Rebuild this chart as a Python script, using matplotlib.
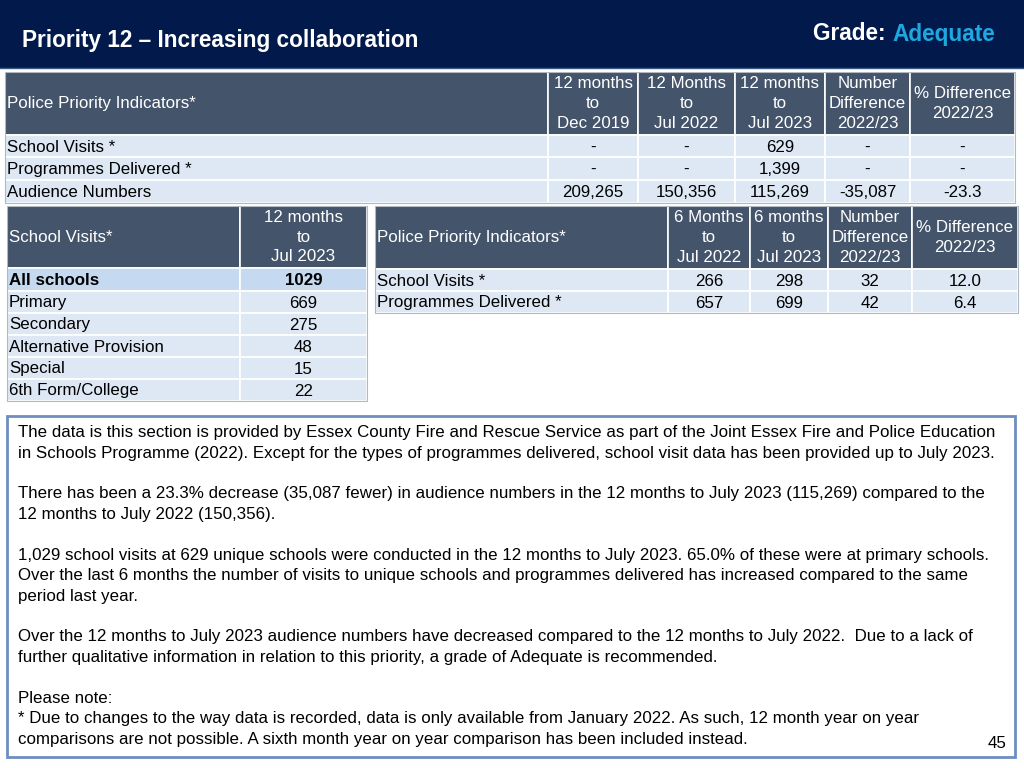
import matplotlib
matplotlib.use("Agg")
import matplotlib.pyplot as plt
from matplotlib.patches import Rectangle

plt.rcParams['font.family'] = ['Liberation Sans', 'DejaVu Sans']

# --- data -------------------------------------------------------------
title = "Priority 12 \u2013 Increasing collaboration"
grade = "Adequate"

t1_headers = ["Police Priority Indicators*", "12 months\nto\nDec 2019", "12 Months\nto\nJul 2022",
              "12 months\nto\nJul 2023", "Number\nDifference\n2022/23", "% Difference\n2022/23"]
t1_rows = ["School Visits *", "Programmes Delivered *", "Audience Numbers"]
t1_dec2019 = [None, None, 209265]
t1_jul2022 = [None, None, 150356]
t1_jul2023 = [629, 1399, 115269]
t1_numdiff = [None, None, -35087]
t1_pctdiff = [None, None, -23.3]

t2_headers = ["School Visits*", "12 months\nto\nJul 2023"]
school_types = ["All schools", "Primary", "Secondary", "Alternative Provision", "Special", "6th Form/College"]
school_visits = [1029, 669, 275, 48, 15, 22]

t3_headers = ["Police Priority Indicators*", "6 Months\nto\nJul 2022", "6 months\nto\nJul 2023",
              "Number\nDifference\n2022/23", "% Difference\n2022/23"]
t3_rows = ["School Visits *", "Programmes Delivered *"]
t3_jul2022 = [266, 657]
t3_jul2023 = [298, 699]
t3_numdiff = [32, 42]
t3_pctdiff = [12.0, 6.4]

paragraphs = [
    "The data is this section is provided by Essex County Fire and Rescue Service as part of the Joint Essex Fire and Police Education\n"
    "in Schools Programme (2022). Except for the types of programmes delivered, school visit data has been provided up to July 2023.",
    "There has been a 23.3% decrease (35,087 fewer) in audience numbers in the 12 months to July 2023 (115,269) compared to the\n"
    "12 months to July 2022 (150,356).",
    "1,029 school visits at 629 unique schools were conducted in the 12 months to July 2023. 65.0% of these were at primary schools.\n"
    "Over the last 6 months the number of visits to unique schools and programmes delivered has increased compared to the same\n"
    "period last year.",
    "Over the 12 months to July 2023 audience numbers have decreased compared to the 12 months to July 2022.  Due to a lack of\n"
    "further qualitative information in relation to this priority, a grade of Adequate is recommended.",
    "Please note:\n"
    "* Due to changes to the way data is recorded, data is only available from January 2022. As such, 12 month year on year\n"
    "comparisons are not possible. A sixth month year on year comparison has been included instead.",
]
page_no = "45"

NAVY = "#011a4b"
HEAD = "#44546a"
CELL = "#dde8f4"
HILITE = "#c5d9f0"
FS = 12.2


def fmt(v, pct=False):
    if v is None:
        return "-"
    if pct:
        return f"{v:.1f}"
    return f"{v:,}"


def draw_table(ax, col_edges, row_edges, headers, body, bold_rows=(), hilite_rows=()):
    # header row
    top, hb = row_edges[0], row_edges[1]
    for j, h in enumerate(headers):
        x0, x1 = col_edges[j], col_edges[j + 1]
        ax.add_patch(Rectangle((x0, top), x1 - x0, hb - top, facecolor=HEAD,
                               edgecolor="white", lw=1.2))
        if j == 0:
            ax.text(x0 + 2, (top + hb) / 2, h, color="white", fontsize=FS,
                    ha="left", va="center")
        else:
            ax.text((x0 + x1) / 2, (top + hb) / 2, h, color="white", fontsize=FS,
                    ha="center", va="center", linespacing=1.4)
    # body rows
    for i, row in enumerate(body):
        y0, y1 = row_edges[i + 1], row_edges[i + 2]
        fc = HILITE if i in hilite_rows else CELL
        fw = "bold" if i in bold_rows else "normal"
        for j, val in enumerate(row):
            x0, x1 = col_edges[j], col_edges[j + 1]
            ax.add_patch(Rectangle((x0, y0), x1 - x0, y1 - y0, facecolor=fc,
                                   edgecolor="white", lw=1.2))
            if j == 0:
                ax.text(x0 + 2, (y0 + y1) / 2 + 1, val, color="black", fontsize=FS,
                        ha="left", va="center", fontweight=fw)
            else:
                ax.text((x0 + x1) / 2, (y0 + y1) / 2 + 1, val, color="black", fontsize=FS,
                        ha="center", va="center", fontweight=fw)
    ax.add_patch(Rectangle((col_edges[0], row_edges[0]), col_edges[-1] - col_edges[0],
                           row_edges[-1] - row_edges[0], facecolor="none",
                           edgecolor="#b0b8c4", lw=0.8))


fig = plt.figure(figsize=(10.24, 7.68), dpi=100)
ax = fig.add_axes([0, 0, 1, 1])
ax.set_xlim(0, 1024)
ax.set_ylim(768, 0)
ax.axis("off")

# title band
ax.add_patch(Rectangle((0, 0), 1024, 68, facecolor=NAVY, edgecolor="none"))
ax.plot([0, 1024], [68, 68], color="#3a5a86", lw=1)
ax.text(22, 41, title, color="white", fontsize=16.3, fontweight="bold", ha="left", va="center")
ax.text(892, 34, "Grade: ", color="white", fontsize=16.3, fontweight="bold", ha="right", va="center")
ax.text(892, 34, grade, color="#1fa8e0", fontsize=16.3, fontweight="bold", ha="left", va="center")

# table 1
body1 = [[t1_rows[i], fmt(t1_dec2019[i]), fmt(t1_jul2022[i]), fmt(t1_jul2023[i]),
          fmt(t1_numdiff[i]), fmt(t1_pctdiff[i], pct=True)] for i in range(len(t1_rows))]
draw_table(ax, [5, 548, 638, 735, 825, 910, 1015], [72, 135, 157, 180, 203], t1_headers, body1)

# table 2
body2 = [[school_types[i], str(school_visits[i])] for i in range(len(school_types))]
draw_table(ax, [7, 240, 367], [206, 268, 291, 313, 335, 357, 379, 401], t2_headers, body2,
           bold_rows=(0,), hilite_rows=(0,))

# table 3
body3 = [[t3_rows[i], fmt(t3_jul2022[i]), fmt(t3_jul2023[i]), fmt(t3_numdiff[i]),
          fmt(t3_pctdiff[i], pct=True)] for i in range(len(t3_rows))]
draw_table(ax, [375, 668, 750, 828, 912, 1018], [206, 269, 291, 313], t3_headers, body3)

# commentary box - one text per paragraph, blank line between them
ax.add_patch(Rectangle((7, 416), 1008, 341, facecolor="white", edgecolor="#6d8ebf", lw=2))
LINE_H = 20.45
line_no = 0
for para in paragraphs:
    ax.text(18, 425 + line_no * LINE_H, para, fontsize=12.2, ha="left", va="top",
            linespacing=1.46, color="black")
    line_no += para.count("\n") + 2
ax.text(1007, 743, page_no, fontsize=12.2, ha="right", va="center")

fig.savefig("out.png", dpi=100)
